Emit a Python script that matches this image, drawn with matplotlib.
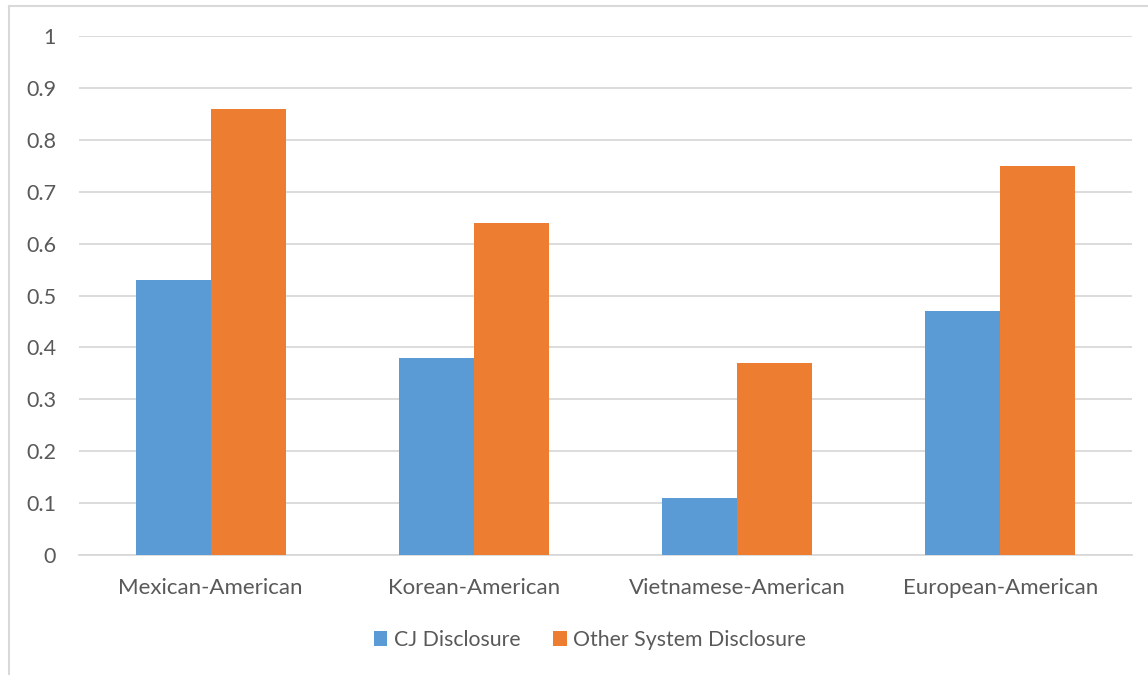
import matplotlib
matplotlib.use("Agg")
import matplotlib.pyplot as plt
import numpy as np
from matplotlib.lines import Line2D

categories = ["Mexican-American", "Korean-American", "Vietnamese-American", "European-American"]
cj_disclosure = [0.53, 0.38, 0.11, 0.47]
other_disclosure = [0.86, 0.64, 0.37, 0.75]
series_names = ["CJ Disclosure", "Other System Disclosure"]
yticks = [0, 0.1, 0.2, 0.3, 0.4, 0.5, 0.6, 0.7, 0.8, 0.9, 1]
ytick_labels = ["0", "0.1", "0.2", "0.3", "0.4", "0.5", "0.6", "0.7", "0.8", "0.9", "1"]

plt.rcParams['font.family'] = ['Lato', 'DejaVu Sans']
text_color = "#595959"
grid_color = "#d9d9d9"
blue = "#5b9bd5"
orange = "#ed7d31"

fig = plt.figure(figsize=(11.48, 6.75), dpi=100)
ax = fig.add_axes([79/1148, 1-555/675, (1132-79)/1148, (555-36)/675])

x = np.arange(len(categories))
w = 0.285
ax.bar(x - w/2, cj_disclosure, width=w, color=blue, label=series_names[0], zorder=3)
ax.bar(x + w/2, other_disclosure, width=w, color=orange, label=series_names[1], zorder=3)

ax.set_xlim(-0.5, len(categories) - 0.5)
ax.set_ylim(0, 1)
ax.set_yticks(yticks)
ax.set_yticklabels(ytick_labels)
ax.set_xticks(x)
ax.set_xticklabels(categories)
ax.tick_params(axis='both', length=0, colors=text_color)
ax.tick_params(axis='x', labelsize=16, pad=16.5)
ax.tick_params(axis='y', labelsize=15.5, pad=16.5)
ax.yaxis.grid(True, color=grid_color, linewidth=1.3, zorder=0)
ax.set_axisbelow(True)
for s in ["top", "right", "left"]:
    ax.spines[s].set_visible(False)
ax.spines["bottom"].set_color(grid_color)
ax.spines["bottom"].set_linewidth(1.3)

leg = fig.legend(loc="center", bbox_to_anchor=(590/1148, 1-640/675), ncol=2, frameon=False,
                 fontsize=15.3, handlelength=0.65, handleheight=0.65, handletextpad=0.3,
                 columnspacing=1.55)
for t in leg.get_texts():
    t.set_color(text_color)

fig.add_artist(Line2D([9/1148, 9/1148], [0, 1-6/675], transform=fig.transFigure, color=grid_color, linewidth=1.5))
fig.add_artist(Line2D([9/1148, 1], [1-6/675, 1-6/675], transform=fig.transFigure, color=grid_color, linewidth=1.5))

fig.savefig("out.png", dpi=100, facecolor="white")
